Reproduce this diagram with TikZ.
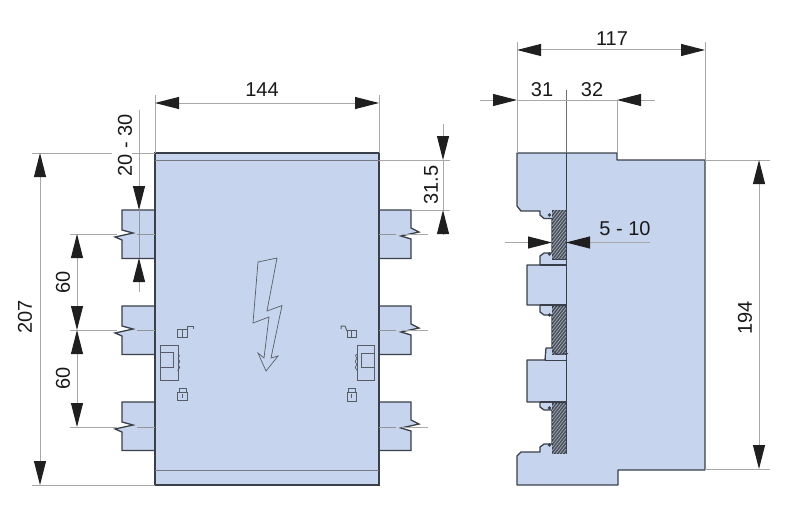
\documentclass[tikz,border=0pt]{standalone}
\usepackage{fontspec}
\setmainfont{Liberation Sans}
\usetikzlibrary{arrows.meta}
\definecolor{bodyblue}{HTML}{C6D5ED}
\definecolor{edge}{HTML}{3A3F4A}
\definecolor{dimgray}{HTML}{A8A8A8}
\definecolor{hatchbg}{HTML}{4C5058}
\tikzset{
  x=1pt,y=-1pt,
  part/.style={fill=bodyblue,draw=edge,line width=1.3pt,line join=miter},
  thinpart/.style={draw=edge!85,line width=0.7pt},
  ext/.style={draw=dimgray,line width=0.8pt},
  band/.style={draw=edge!70,line width=0.8pt},
  dimarrow/.style={draw=dimgray,line width=1pt,-{Triangle[length=24pt,width=12pt,color=black!88,fill=black!88]}},
  dimtext/.style={font=\fontsize{20}{24}\selectfont,text=black!90,inner sep=0pt},
  hatchblock/.style={fill=hatchbg,draw=edge,line width=0.8pt},
  hatchlines/.style={draw=bodyblue!70!hatchbg,line width=0.7pt}
}
\begin{document}
\begin{tikzpicture}
\useasboundingbox (0,0) rectangle (800,519);
% ---------- front view: tabs
\foreach \t in {210,306,402}{
  \path[part] (155,\t) -- (122,\t) -- (122,\t+20) -- (133,\t+23) -- (115,\t+27) -- (122,\t+30) -- (122,\t+48.5) -- (155,\t+48.5);
  \path[part] (379,\t) -- (411,\t) -- (411,\t+18) -- (419,\t+22) -- (401,\t+26) -- (411,\t+29) -- (411,\t+48.5) -- (379,\t+48.5);
}
% front view: body
\path[part] (155,153) rectangle (379,485);
\draw[band] (155,160) -- (379,160);
\draw[band] (155,470) -- (379,470);
% centre lines of the tabs
\foreach \c in {234,330,427}{
  \draw[ext] (70,\c) -- (117,\c);
  \draw[ext,draw=edge!55] (137,\c) -- (155,\c);
  \draw[ext,draw=edge!55] (379,\c) -- (396,\c);
  \draw[ext] (402,\c) -- (428,\c);
}
% lightning
\draw[thinpart,line join=miter] (258,262) -- (277,258) -- (267,311) -- (282,305.5) -- (271,358) -- (278,356) -- (266,371) -- (258,353) -- (264,358) -- (269,317) -- (253,323) -- cycle;
% left symbols
\draw[thinpart] (160,345) rectangle (178,380);
\draw[thinpart] (160,352) rectangle (173,367);
\draw[thinpart] (178,354) .. controls (182,356) and (176,358) .. (179,360) .. controls (182,362) and (176,364) .. (179,366) .. controls (182,368) and (176,370) .. (178,371);
\draw[thinpart] (177,329) rectangle (187,337);
\draw[thinpart] (182,329) -- (182,337);
\draw[edge!85,line width=1pt] (187,330) -- (187,326) -- (193,326) -- (193,329);
\draw[thinpart] (177.5,392) rectangle (187,400);
\draw[thinpart] (179,392) -- (179,388.5) -- (186,388.5) -- (186,392);
\draw[edge!85,line width=1pt] (182.3,394) -- (182.3,398);
% right symbols
\draw[thinpart] (357,345) rectangle (374,380);
\draw[thinpart] (361,353) rectangle (374,367);
\draw[thinpart] (357,354) .. controls (353,356) and (359,358) .. (356,360) .. controls (353,362) and (359,364) .. (356,366) .. controls (353,368) and (359,370) .. (357,371);
\draw[thinpart] (347,330) rectangle (356,337);
\draw[thinpart] (351.5,330) -- (351.5,337);
\draw[edge!85,line width=1pt] (347,331) -- (345,326) -- (341,326) -- (341,329);
\draw[thinpart] (347,392) rectangle (356,401);
\draw[thinpart] (348,392) -- (348,388.5) -- (355,388.5) -- (355,392);
\draw[edge!85,line width=1pt] (351.5,394) -- (351.5,398);
% ---------- side view
\path[part,line join=round] (566,153) -- (517,153) -- (517,206) -- (521,211) -- (540,211) -- (540,215) -- (544,218.5) -- (552,218.5) -- (552,253) -- (544,253) -- (540,256) -- (540,265) -- (527,265) -- (527,305) -- (540,305) -- (540,312) -- (544,315) -- (552,315) -- (552,348) -- (546,348) -- (545,360) -- (527,360) -- (527,402) -- (540,402) -- (540,407) -- (544,410) -- (552,410) -- (552,444) -- (544,444) -- (540,447) -- (540,452) -- (521,452) -- (517,456) -- (517,485) -- (618,485) -- (618,470) -- (705,470) -- (705,160) -- (617,160) -- (617,153) -- cycle;
% hatched strips
\foreach \a/\b in {210/259,306/354,403/453}{
  \path[hatchblock] (552,\a) rectangle (566,\b);
  \begin{scope}
    \clip (552,\a) rectangle (566,\b);
    \foreach \k in {0,4,...,68}{
      \draw[hatchlines] (552,\a+\k) -- ++(14,-18);
    }
  \end{scope}
}
% repaint what the strips overlap
\draw[edge,line width=1.3pt] (540,265) -- (566,265);
\draw[edge,line width=1.3pt] (540,305) -- (566,305);
\draw[edge,line width=1.1pt] (545,360) -- (566,360);
\draw[edge,line width=1.1pt] (540,402) -- (566,402);
\path[fill=bodyblue] (552.4,259.5) rectangle (566,264.4);
\draw[edge,line width=0.8pt] (552,259) -- (566,259);
\path[fill=bodyblue] (546,354.5) -- (566,354.5) -- (566,359.5) -- (546,359.5) -- cycle;
\draw[edge,line width=0.9pt] (552,350) -- (557,354.5) -- (568,353.5);
\draw[edge,line width=1pt] (566,100) -- (566,453);
\draw[ext,draw=edge!75] (566,90) -- (566,153);
\foreach \p in {215,254,315,408,445}{\fill[edge] (549.5,\p) circle (1.8);}
% ---------- dimensions: extension lines
\draw[ext] (155,95) -- (155,153);
\draw[ext] (379,95) -- (379,153);
\draw[ext] (517,42) -- (517,153);
\draw[ext] (705,42) -- (705,160);
\draw[ext] (617,100) -- (617,153);
\draw[ext] (32,153) -- (112,153);
\draw[ext] (132,153) -- (155,153);
\draw[ext] (32,485) -- (155,485);
\draw[ext] (379,160) -- (450,160);
\draw[ext] (412,210) -- (450,210);
\draw[ext] (705,160) -- (770,160);
\draw[ext] (705,469) -- (770,469);
% width 144
\coordinate (a1) at (155,103); \coordinate (a2) at (379,103);
\draw[dimarrow] (262,103) -- (a1);
\draw[dimarrow] (262,103) -- (a2);
\node[dimtext] (t144) at (262,90) {144};
% width 117
\coordinate (b1) at (517,50); \coordinate (b2) at (705,50);
\draw[dimarrow] (612,50) -- (b1);
\draw[dimarrow] (612,50) -- (b2);
\node[dimtext] (t117) at (612,39) {117};
% 31 / 32
\coordinate (c1) at (517,100); \coordinate (c2) at (617,100);
\draw[dimarrow] (480,100) -- (c1);
\draw[dimarrow] (655,100) -- (c2);
\draw[ext,line width=1pt] (517,100) -- (617,100);
\node[dimtext] (t31) at (542,90) {31};
\node[dimtext] (t32) at (592,90) {32};
% 194
\coordinate (d1) at (759,160); \coordinate (d2) at (759,469);
\draw[dimarrow] (759,318) -- (d1);
\draw[dimarrow] (759,318) -- (d2);
\node[dimtext,rotate=90] (t194) at (745,318) {194};
% 207
\coordinate (e1) at (40,153); \coordinate (e2) at (40,485);
\draw[dimarrow] (40,317) -- (e1);
\draw[dimarrow] (40,317) -- (e2);
\node[dimtext,rotate=90] (t207) at (25,317) {207};
% 20 - 30
\coordinate (f1) at (139,210); \coordinate (f2) at (139,258);
\draw[dimarrow] (139,110) -- (f1);
\draw[dimarrow] (139,292) -- (f2);
\draw[ext,draw=edge!55] (f1) -- (f2);
\node[dimtext,rotate=90] (t2030) at (125,145) {20 - 30};
% 31.5
\coordinate (g1) at (443,160); \coordinate (g2) at (443,210);
\draw[dimarrow] (443,124) -- (g1);
\draw[dimarrow] (443,235) -- (g2);
\draw[ext] (g1) -- (g2);
\node[dimtext,rotate=90] (t315) at (431,185) {31.5};
% 60 / 60
\coordinate (h1) at (77,234); \coordinate (h2) at (77,330); \coordinate (h3) at (77,427);
\draw[dimarrow] (77,282) -- (h1);
\draw[dimarrow] (77,282) -- (h2);
\draw[dimarrow] (77,378) -- (h2);
\draw[dimarrow] (77,378) -- (h3);
\node[dimtext,rotate=90] (t60a) at (63,282) {60};
\node[dimtext,rotate=90] (t60b) at (63,378) {60};
% 5 - 10
\coordinate (k1) at (552,242.5); \coordinate (k2) at (566,242.5);
\draw[dimarrow] (505,242.5) -- (k1);
\draw[dimarrow] (650,242.5) -- (k2);
\node[dimtext] (t510) at (625,229) {5 - 10};
\end{tikzpicture}
\end{document}
